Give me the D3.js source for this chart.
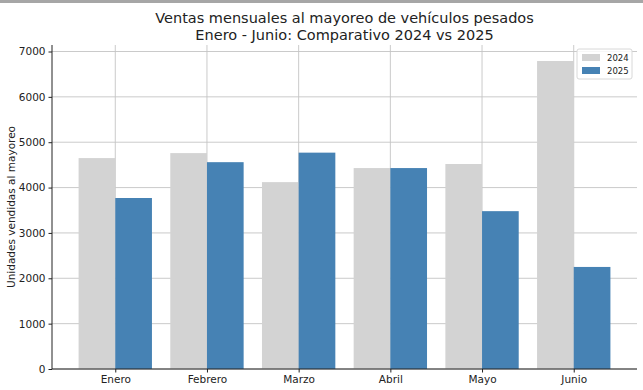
<!DOCTYPE html>
<html lang="es">
<head>
  <meta charset="UTF-8">
  <title>Ventas mensuales</title>
  <script src="https://cdn.jsdelivr.net/npm/d3@7"></script>
  <style>
    body { margin: 0; background: #fff; }
    svg { display: block; font-family: "DejaVu Sans", sans-serif; }
  </style>
</head>
<body>
<div id="app"></div>
<script>
const months = ["Enero", "Febrero", "Marzo", "Abril", "Mayo", "Junio"];
const years = ["2024", "2025"];
const sales2024 = [4650, 4760, 4120, 4430, 4520, 6790];
const sales2025 = [3770, 4560, 4770, 4430, 3480, 2250];
const yTicks = [0, 1000, 2000, 3000, 4000, 5000, 6000, 7000];
const colors = ["#d3d3d3", "#4682b4"];

const width = 643, height = 390;
const margin = { top: 45, right: 6, bottom: 21, left: 52 };
const plotW = width - margin.left - margin.right;
const plotH = height - margin.top - margin.bottom;

const svg = d3.select("#app").append("svg")
  .attr("width", width)
  .attr("height", height);

// thin gray band across the top
svg.append("rect").attr("x", 0).attr("y", 0).attr("width", width).attr("height", 3).attr("fill", "#a6a6a6");

// title, centred over the axes
const cx = margin.left + plotW / 2;
const title = svg.append("text")
  .attr("text-anchor", "middle")
  .attr("font-size", 14.5).attr("fill", "#222");
title.append("tspan").attr("x", cx).attr("y", 23).text("Ventas mensuales al mayoreo de vehículos pesados");
title.append("tspan").attr("x", cx).attr("y", 40).text("Enero - Junio: Comparativo 2024 vs 2025");

const chart = svg.append("g").attr("transform", `translate(${margin.left},${margin.top})`);

// matplotlib-like positions: bar width 0.4, 5% margins
const x = d3.scaleLinear().domain([-0.69, 5.69]).range([0, plotW]);
const y = d3.scaleLinear().domain([0, 7000 * plotH / 317.5]).range([plotH, 0]);
const barW = x(0.4) - x(0);

// grid
chart.append("g").selectAll("line").data(yTicks).join("line")
  .attr("x1", 0).attr("x2", plotW)
  .attr("y1", d => y(d)).attr("y2", d => y(d))
  .attr("stroke", "#c4c4c4").attr("stroke-width", 0.9);
chart.append("g").selectAll("line").data(months).join("line")
  .attr("x1", (d, i) => x(i)).attr("x2", (d, i) => x(i))
  .attr("y1", 0).attr("y2", plotH)
  .attr("stroke", "#c4c4c4").attr("stroke-width", 0.9);

// bars
const series = [sales2024, sales2025];
series.forEach((vals, s) => {
  chart.append("g").selectAll("rect").data(vals).join("rect")
    .attr("x", (d, i) => x(i + (s === 0 ? -0.4 : 0)))
    .attr("y", d => y(d))
    .attr("width", barW)
    .attr("height", d => plotH - y(d))
    .attr("fill", colors[s]);
});

// axes
const xAxis = d3.axisBottom(x).tickValues(d3.range(months.length))
  .tickFormat(i => months[i]).tickSize(3.5).tickPadding(3).tickSizeOuter(0);
const yAxis = d3.axisLeft(y).tickValues(yTicks).tickFormat(d3.format("d"))
  .tickSize(3.5).tickPadding(3).tickSizeOuter(0);

const xg = chart.append("g").attr("transform", `translate(0,${plotH})`).call(xAxis);
const yg = chart.append("g").call(yAxis);
xg.select(".domain").attr("d", `M0,0H${plotW}`);
yg.select(".domain").attr("d", `M0,${plotH}V0`);
[xg, yg].forEach(g => {
  g.selectAll("text").attr("font-size", 10.5).attr("fill", "#222").attr("font-family", "DejaVu Sans");
  g.select(".domain").attr("stroke", "#222");
  g.selectAll(".tick line").attr("stroke", "#222");
});

// y label
svg.append("text")
  .attr("transform", `translate(15,${margin.top + plotH / 2}) rotate(-90)`)
  .attr("text-anchor", "middle").attr("font-size", 10.5).attr("fill", "#222")
  .text("Unidades vendidas al mayoreo");

// legend
const lg = svg.append("g").attr("transform", "translate(577,49)");
lg.append("rect").attr("width", 55).attr("height", 30).attr("rx", 2)
  .attr("fill", "#fff").attr("fill-opacity", 0.85).attr("stroke", "#d8d8d8");
years.forEach((yr, i) => {
  lg.append("rect").attr("x", 5).attr("y", 5 + i * 13).attr("width", 18).attr("height", 7).attr("fill", colors[i]);
  lg.append("text").attr("x", 30).attr("y", 11.5 + i * 13).attr("font-size", 8.5).attr("fill", "#222").text(yr);
});
</script>
</body>
</html>
